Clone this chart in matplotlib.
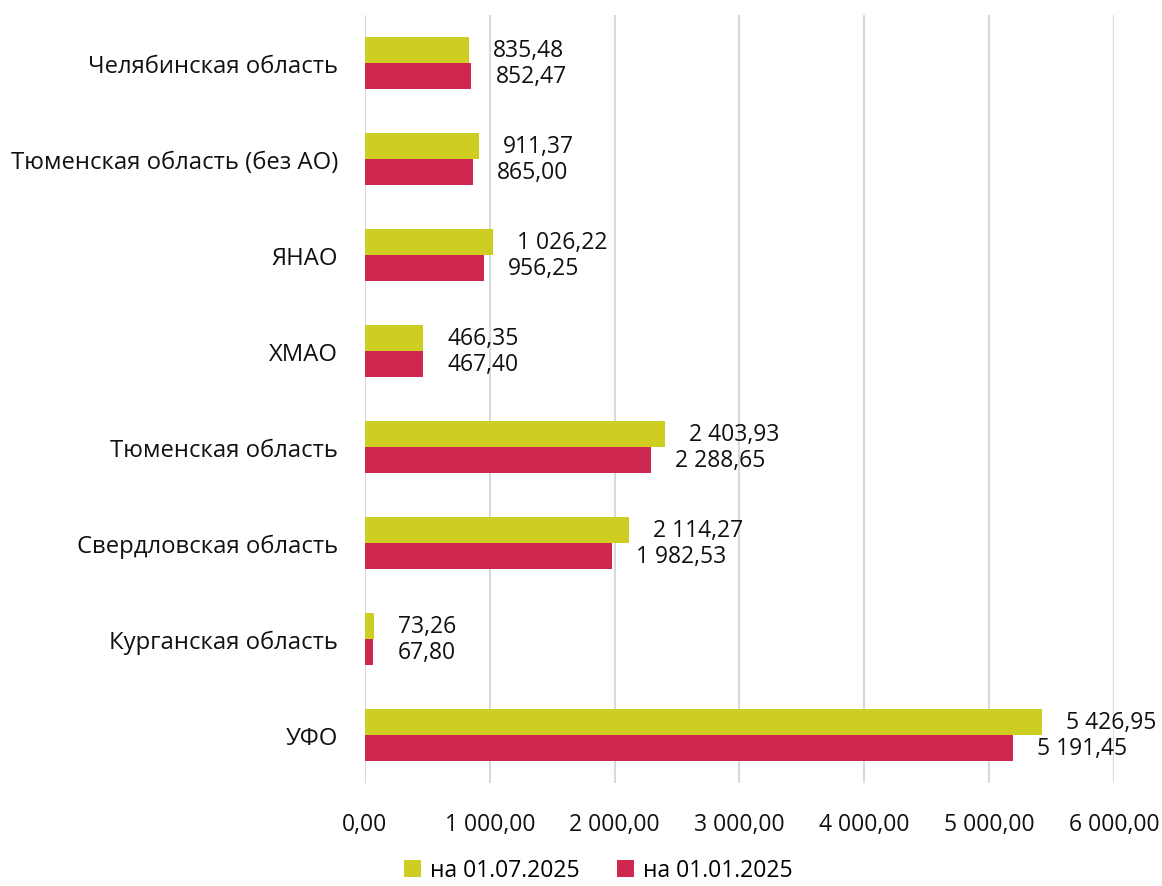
import matplotlib
matplotlib.use("Agg")
import matplotlib.pyplot as plt
import numpy as np

categories = ["Челябинская область", "Тюменская область (без АО)", "ЯНАО", "ХМАО",
              "Тюменская область", "Свердловская область", "Курганская область", "УФО"]
jul_2025 = [835.48, 911.37, 1026.22, 466.35, 2403.93, 2114.27, 73.26, 5426.95]
jan_2025 = [852.47, 865.00, 956.25, 467.40, 2288.65, 1982.53, 67.80, 5191.45]
series_names = ["на 01.07.2025", "на 01.01.2025"]
xticks = [0, 1000, 2000, 3000, 4000, 5000, 6000]

c_yel = "#CDCD22"
c_red = "#CF2850"

plt.rcParams['font.family'] = ['Open Sans', 'DejaVu Sans']
FS = 16.5

def fmt(v):
    s = f"{v:,.2f}"
    return s.replace(",", " ").replace(".", ",")

fig = plt.figure(figsize=(11.62, 8.87), dpi=100)
ax = fig.add_axes([0.3141, 0.1161, 0.6446, 0.8659])

n = len(categories)
y = np.arange(n)
h = 0.27
ax.barh(y - h/2, jul_2025, height=h, color=c_yel, label=series_names[0], zorder=3)
ax.barh(y + h/2, jan_2025, height=h, color=c_red, label=series_names[1], zorder=3)

for yi, v in zip(y, jul_2025):
    ax.annotate(fmt(v), (v, yi - h/2), xytext=(24, 0), textcoords="offset pixels",
                va="center", ha="left", fontsize=FS, color="#111111")
for yi, v in zip(y, jan_2025):
    ax.annotate(fmt(v), (v, yi + h/2), xytext=(24, 0), textcoords="offset pixels",
                va="center", ha="left", fontsize=FS, color="#111111")

ax.set_ylim(n - 0.5, -0.5)
ax.set_xlim(0, 6000)
ax.set_yticks(y)
ax.set_yticklabels(categories, fontsize=17.2, color="#111111")
ax.set_xticks(xticks)
ax.set_xticklabels([fmt(t) for t in xticks], fontsize=FS, color="#111111")
ax.tick_params(axis="both", length=0)
ax.tick_params(axis="y", pad=19.5)
ax.tick_params(axis="x", pad=21)
for s in ax.spines.values():
    s.set_visible(False)
ax.grid(axis="x", color="#D9D9D9", linewidth=1.5, zorder=0)
ax.set_axisbelow(True)

fig.legend(loc="lower center", bbox_to_anchor=(0.515, -0.019), ncol=2, frameon=False,
           fontsize=FS, handlelength=0.75, handleheight=0.75, handletextpad=0.4,
           columnspacing=1.6)

fig.savefig("out.png", dpi=100)
